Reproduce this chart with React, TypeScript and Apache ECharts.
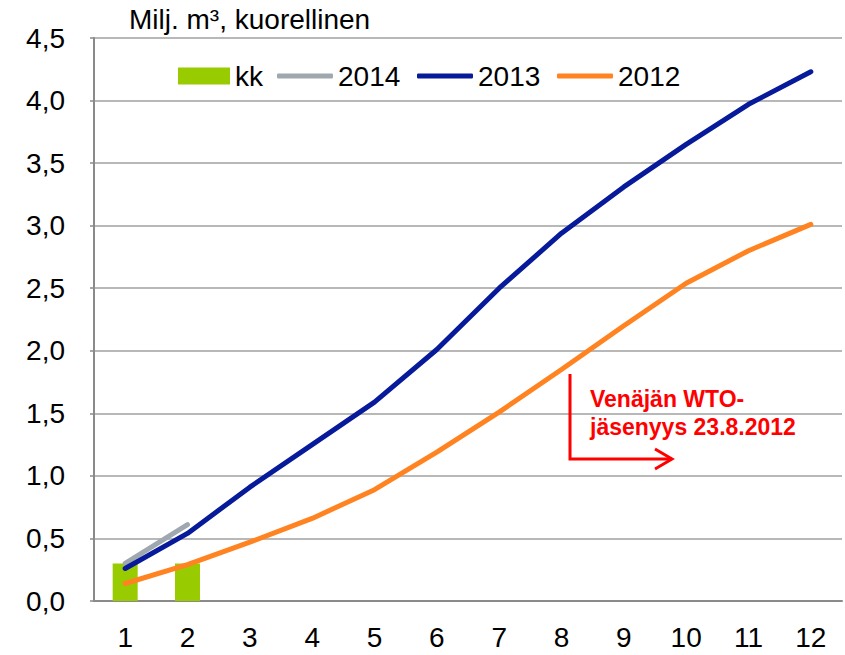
import React, { useEffect, useRef } from "react";
import * as echarts from "echarts";

const categories = ["1", "2", "3", "4", "5", "6", "7", "8", "9", "10", "11", "12"];
const kk = [0.30, 0.30];
const y2014 = [0.30, 0.61];
const y2013 = [0.26, 0.54, 0.91, 1.25, 1.59, 2.01, 2.50, 2.94, 3.31, 3.65, 3.97, 4.23];
const y2012 = [0.14, 0.29, 0.47, 0.66, 0.89, 1.19, 1.51, 1.85, 2.20, 2.54, 2.80, 3.01];
const yTicks = { min: 0, max: 4.5, interval: 0.5 };
const titleText = "Milj. m\u00B3, kuorellinen";
const noteText = "Venäjän WTO-\njäsenyys 23.8.2012";

const FONT = "'Liberation Sans', Arial, sans-serif";
const FS = 28;
const C_KK = "#99cc00";
const C_2014 = "#9fa8af";
const C_2013 = "#061a9a";
const C_2012 = "#ff8421";
const GRID_C = "#a0a0a0";
const AXIS_C = "#8a8a8a";

export default function App() {
  const ref = useRef<HTMLDivElement>(null);
  useEffect(() => {
    if (!ref.current) return;
    const chart = echarts.init(ref.current, null, { renderer: "svg" });
    const legendBase = {
      top: 62,
      orient: "horizontal",
      padding: 0,
      itemHeight: 17,
      textStyle: { fontSize: FS, fontFamily: FONT, color: "#000" },
      selectedMode: false,
    };
    const lineLegend = (name: string, left: number) => ({
      ...legendBase,
      left,
      itemWidth: 56,
      itemHeight: 5,
      data: [{ name, icon: "roundRect" }],
    });
    chart.setOption({
      animation: false,
      backgroundColor: "#fff",
      title: {
        text: titleText,
        left: 129,
        top: 5,
        padding: 0,
        textStyle: { fontSize: FS, fontWeight: "normal", fontFamily: FONT, color: "#000" },
      },
      legend: [
        { ...legendBase, left: 178, itemWidth: 52, data: [{ name: "kk", icon: "rect" }] },
        lineLegend("2014", 277),
        lineLegend("2013", 417),
        lineLegend("2012", 557),
      ],
      grid: { left: 94, top: 38, right: 3, bottom: 54, containLabel: false },
      xAxis: {
        type: "category",
        data: categories,
        boundaryGap: true,
        axisLine: { show: true, lineStyle: { color: AXIS_C, width: 2 } },
        axisTick: { show: false },
        axisLabel: { fontSize: FS, fontFamily: FONT, color: "#000", margin: 22 },
        splitLine: { show: false },
      },
      yAxis: {
        type: "value",
        min: yTicks.min,
        max: yTicks.max,
        interval: yTicks.interval,
        axisLine: { show: true, lineStyle: { color: AXIS_C, width: 2 } },
        axisTick: { show: true, inside: false, length: 4, lineStyle: { color: AXIS_C, width: 1.5 } },
        axisLabel: {
          fontSize: FS,
          fontFamily: FONT,
          color: "#000",
          margin: 29,
          formatter: (v: number) => v.toFixed(1).replace(".", ","),
        },
        splitLine: { show: true, lineStyle: { color: GRID_C, width: 1.5 } },
      },
      series: [
        {
          name: "kk",
          type: "bar",
          data: kk,
          barWidth: 25,
          itemStyle: { color: C_KK },
          z: 1,
        },
        {
          name: "2014",
          type: "line",
          data: y2014,
          symbol: "none",
          lineStyle: { color: C_2014, width: 5, cap: "round" },
          itemStyle: { color: C_2014 },
          z: 2,
        },
        {
          name: "2013",
          type: "line",
          data: y2013,
          symbol: "none",
          lineStyle: { color: C_2013, width: 5, cap: "round" },
          itemStyle: { color: C_2013 },
          z: 3,
        },
        {
          name: "2012",
          type: "line",
          data: y2012,
          symbol: "none",
          lineStyle: { color: C_2012, width: 5, cap: "round" },
          itemStyle: { color: C_2012 },
          z: 4,
        },
      ],
      graphic: [
        {
          type: "polyline",
          shape: { points: [[570, 374], [570, 459], [672, 459]] },
          style: { stroke: "#ff0000", lineWidth: 3, fill: null },
          z: 10,
        },
        {
          type: "polyline",
          shape: { points: [[655, 449], [672, 459], [655, 469]] },
          style: { stroke: "#ff0000", lineWidth: 3, fill: null },
          z: 10,
        },
        {
          type: "text",
          x: 590,
          y: 385,
          style: {
            text: noteText,
            fill: "#ff0000",
            font: `bold 23px ${FONT}`,
            lineHeight: 28,
          },
          z: 10,
        },
      ],
    });
    return () => chart.dispose();
  }, []);
  return (
    <div
      ref={ref}
      style={{ position: "fixed", left: 0, top: 0, width: 845, height: 655, background: "#fff" }}
    />
  );
}
